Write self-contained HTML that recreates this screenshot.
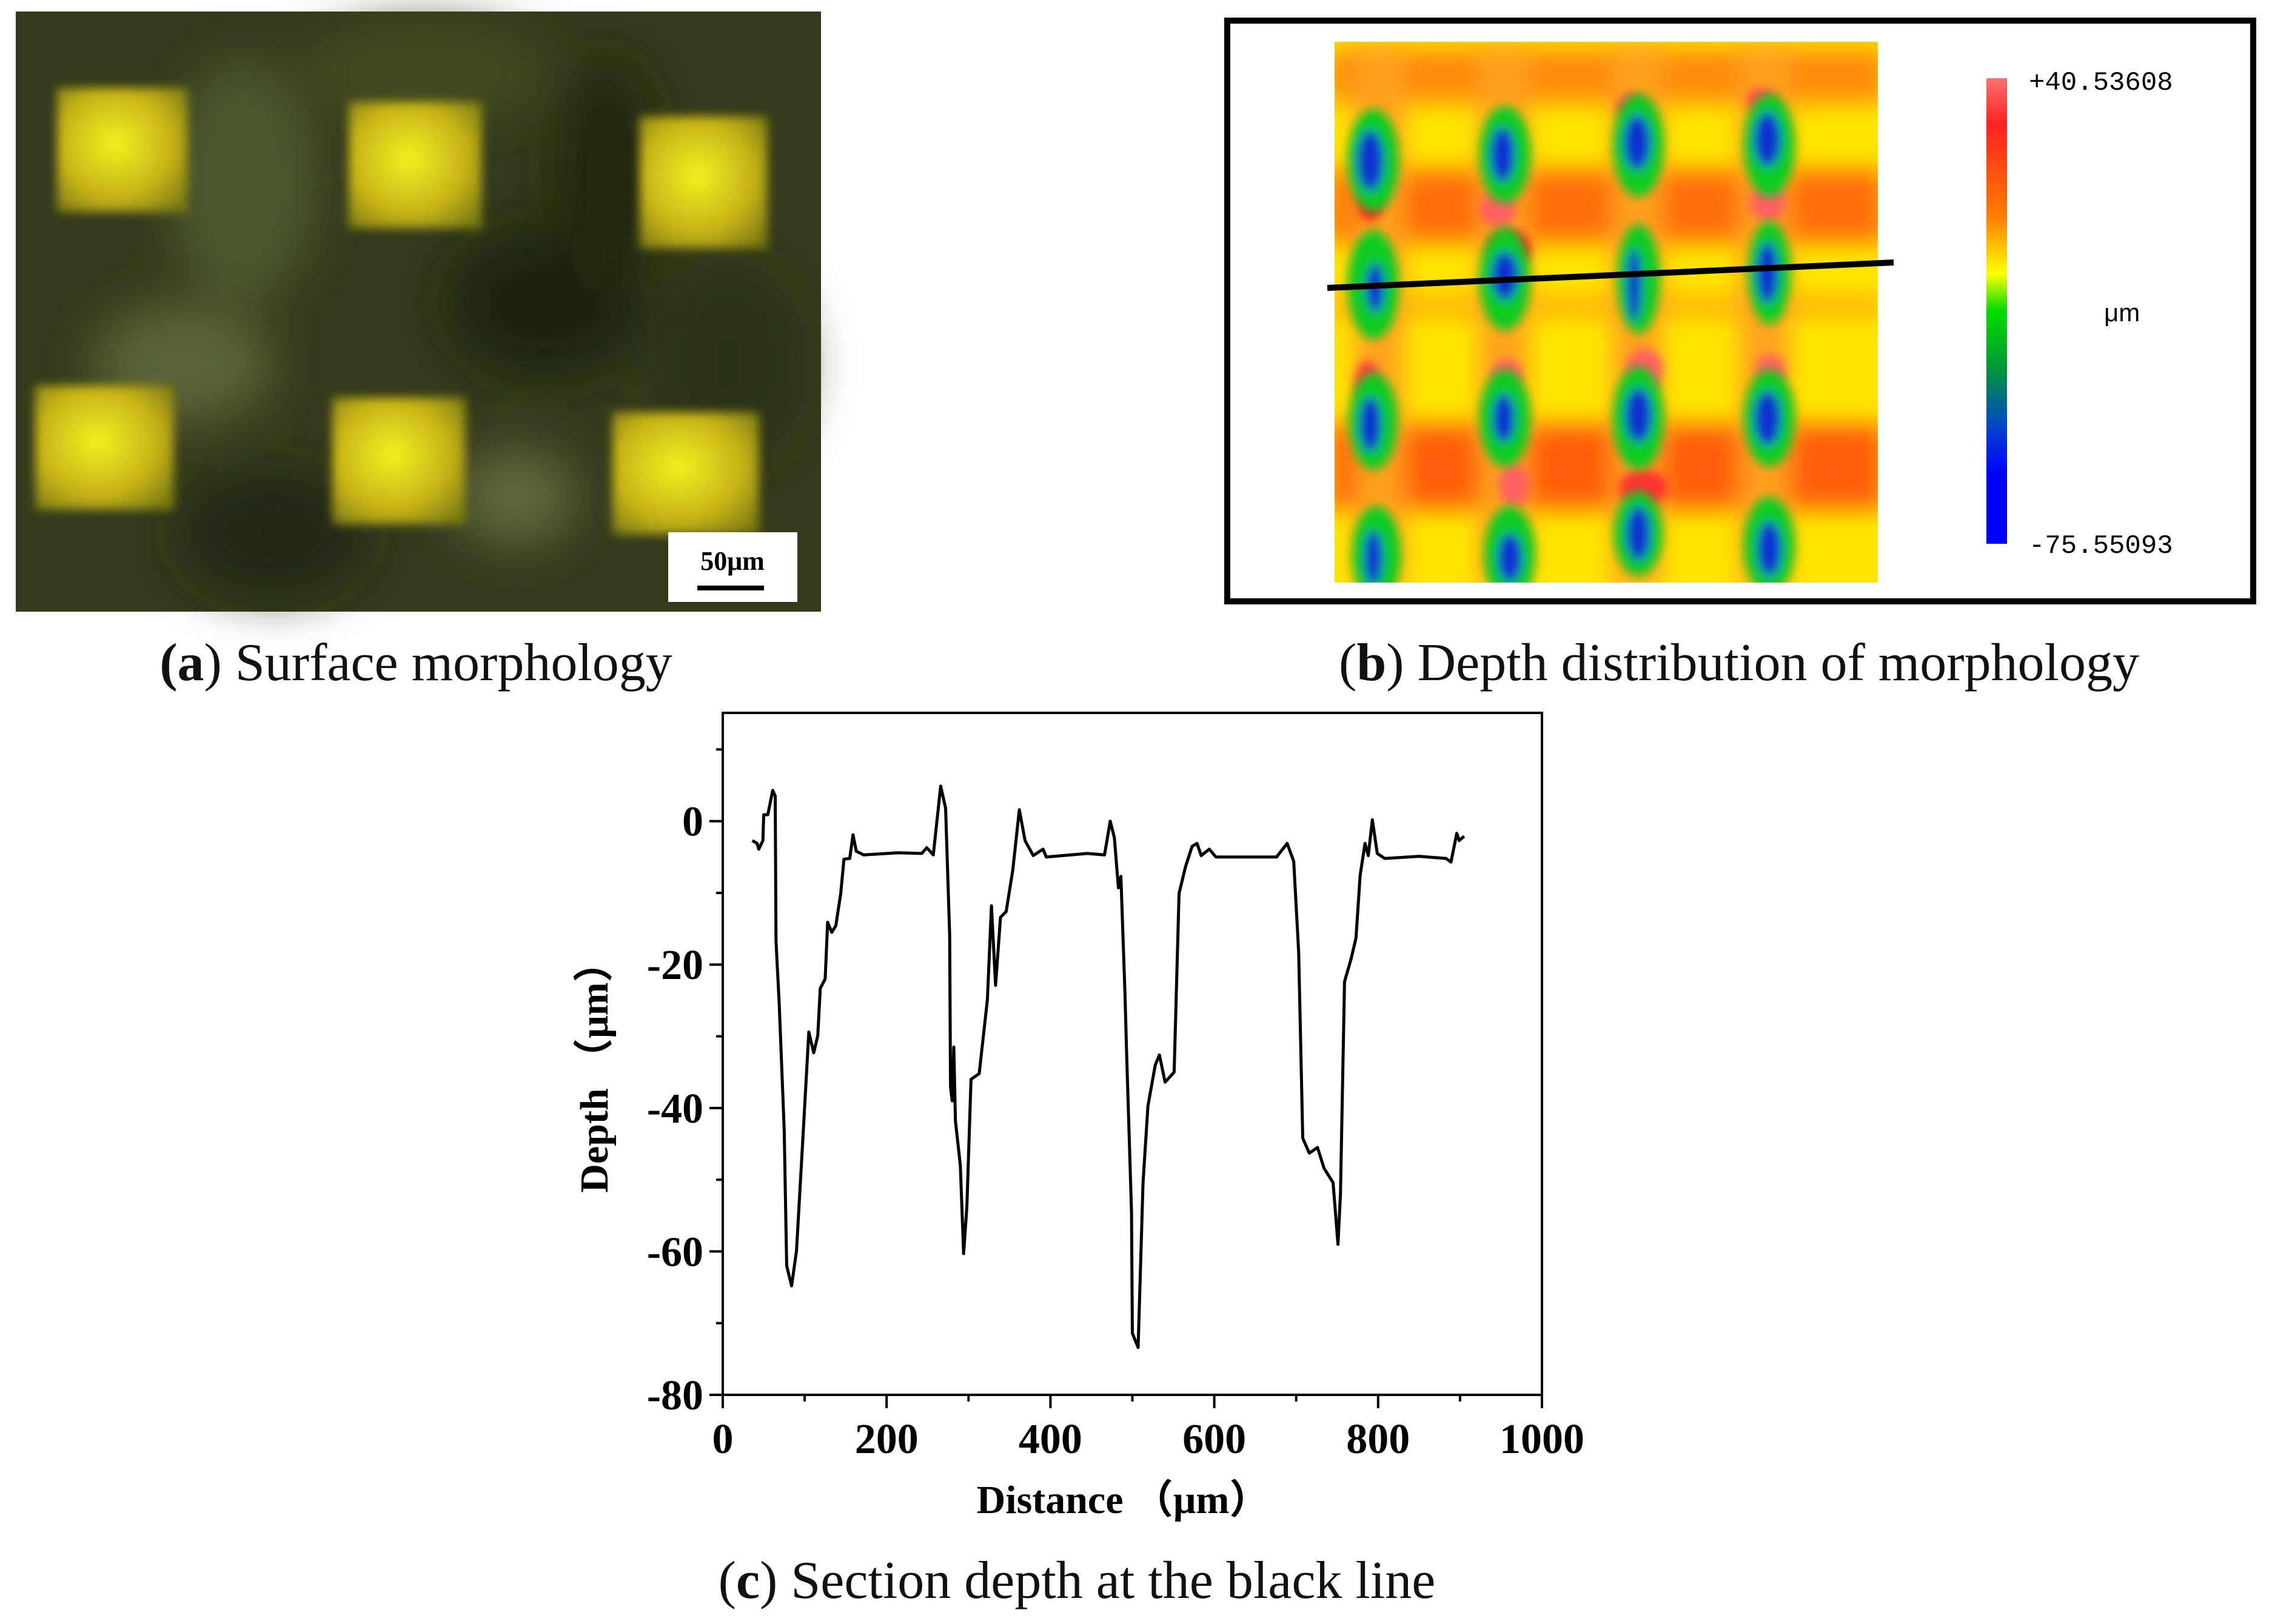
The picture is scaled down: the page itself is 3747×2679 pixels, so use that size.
<!DOCTYPE html>
<html><head><meta charset="utf-8">
<style>
html,body{margin:0;padding:0;background:#fff;}
body{width:3747px;height:2679px;position:relative;overflow:hidden;font-family:"Liberation Serif",serif;}
.cap{position:absolute;font-size:88px;line-height:100px;color:#111;white-space:nowrap;transform:translateX(-50%);}
</style></head>
<body>
<svg width="3747" height="2679" viewBox="0 0 3747 2679" style="position:absolute;left:0;top:0">
<defs>
<filter id="blur8"><feGaussianBlur stdDeviation="8"/></filter>
<filter id="blur20"><feGaussianBlur stdDeviation="20"/></filter>
<filter id="blur40"><feGaussianBlur stdDeviation="40"/></filter>
<linearGradient id="cbar" x1="0" y1="0" x2="0" y2="1">
<stop offset="0" stop-color="#ff7070"/><stop offset="0.1" stop-color="#ff2020"/><stop offset="0.3" stop-color="#ff8000"/><stop offset="0.42" stop-color="#ffff00"/><stop offset="0.5" stop-color="#00dd00"/><stop offset="0.62" stop-color="#009933"/><stop offset="0.75" stop-color="#0044cc"/><stop offset="0.85" stop-color="#0000ff"/><stop offset="1" stop-color="#0000ff"/>
</linearGradient>
<radialGradient id="gold" cx="0.45" cy="0.45" r="0.7"><stop offset="0" stop-color="#f4f020"/><stop offset="0.6" stop-color="#c8b418"/><stop offset="1" stop-color="#7a7a10"/></radialGradient>
</defs>

<!-- Panel a -->
<g>
<rect x="26" y="19" width="1328" height="990" fill="#343a1c"/>
<g filter="url(#blur40)">
<ellipse cx="400" cy="300" rx="120" ry="200" fill="#4e5830"/>
<ellipse cx="900" cy="500" rx="160" ry="120" fill="#1e2410"/>
<ellipse cx="1200" cy="600" rx="120" ry="160" fill="#2a3218"/>
<ellipse cx="300" cy="600" rx="150" ry="100" fill="#5a6438"/>
<ellipse cx="850" cy="820" rx="100" ry="80" fill="#5e6840"/>
<ellipse cx="450" cy="880" rx="150" ry="100" fill="#222812"/>
<ellipse cx="700" cy="120" rx="200" ry="80" fill="#424c24"/>
<ellipse cx="1000" cy="300" rx="80" ry="200" fill="#222810"/>
</g>
<g filter="url(#blur8)">
<rect x="94" y="145" width="216" height="205" fill="url(#gold)"/>
<rect x="575" y="168" width="220" height="209" fill="url(#gold)"/>
<rect x="1055" y="192" width="211" height="218" fill="url(#gold)"/>
<rect x="58" y="636" width="229" height="205" fill="url(#gold)"/>
<rect x="548" y="656" width="220" height="209" fill="url(#gold)"/>
<rect x="1010" y="680" width="242" height="202" fill="url(#gold)"/>
</g>
<rect x="1102" y="878" width="213" height="115" fill="#fff"/>
<text x="1208" y="940" font-family="Liberation Serif" font-weight="bold" font-size="44" text-anchor="middle">50μm</text>
<rect x="1150" y="966" width="110" height="8" fill="#000"/>
</g>

<!-- Panel b -->
<g>
<rect x="2024" y="34" width="1692" height="958" fill="#fff" stroke="#000" stroke-width="10"/>
<g>
<clipPath id="hc"><rect x="2201" y="69" width="896" height="892"/></clipPath>
<g clip-path="url(#hc)">
<rect x="2201" y="69" width="896" height="892" fill="#ffe600"/>
<g filter="url(#blur20)" opacity="0.9">
<rect x="2190" y="80" width="920" height="90" fill="#ff8010"/>
<rect x="2190" y="280" width="920" height="120" fill="#ff6010"/>
<rect x="2190" y="490" width="920" height="30" fill="#ffa010"/>
<rect x="2190" y="700" width="920" height="140" fill="#ff5010"/>
<rect x="2235" y="69" width="80" height="900" fill="#ff9a20"/>
<rect x="2440" y="69" width="80" height="900" fill="#ff9a20"/>
<rect x="2660" y="69" width="80" height="900" fill="#ff9a20"/>
<rect x="2870" y="69" width="80" height="900" fill="#ff9a20"/>
</g>
<g filter="url(#blur8)">
<ellipse cx="2690" cy="175" rx="25" ry="20" fill="#ff5050"/>
<ellipse cx="2905" cy="165" rx="25" ry="20" fill="#ff5050"/>
<ellipse cx="2470" cy="345" rx="30" ry="30" fill="#ff6060"/>
<ellipse cx="2915" cy="335" rx="30" ry="30" fill="#ff6060"/>
<ellipse cx="2260" cy="335" rx="20" ry="30" fill="#ff2020"/>
<ellipse cx="2490" cy="410" rx="35" ry="30" fill="#ff2020"/>
<ellipse cx="2712" cy="610" rx="30" ry="35" fill="#ff6060"/>
<ellipse cx="2485" cy="617" rx="25" ry="25" fill="#ff6060"/>
<ellipse cx="2920" cy="610" rx="25" ry="25" fill="#ff6060"/>
<ellipse cx="2255" cy="630" rx="20" ry="35" fill="#ff4040"/>
<ellipse cx="2497" cy="800" rx="25" ry="35" fill="#ff6060"/>
<ellipse cx="2710" cy="805" rx="40" ry="30" fill="#ff3030"/>
</g>
<g filter="url(#blur8)">
<g fill="#11cc22">
<ellipse cx="2265" cy="265" rx="42" ry="85"/><ellipse cx="2482" cy="255" rx="42" ry="80"/><ellipse cx="2702" cy="240" rx="42" ry="85"/><ellipse cx="2918" cy="240" rx="42" ry="85"/>
<ellipse cx="2265" cy="470" rx="42" ry="90"/><ellipse cx="2482" cy="460" rx="42" ry="85"/><ellipse cx="2702" cy="460" rx="35" ry="90"/><ellipse cx="2918" cy="450" rx="35" ry="85"/>
<ellipse cx="2265" cy="695" rx="40" ry="80"/><ellipse cx="2482" cy="690" rx="42" ry="80"/><ellipse cx="2702" cy="690" rx="42" ry="85"/><ellipse cx="2918" cy="690" rx="42" ry="80"/>
<ellipse cx="2270" cy="915" rx="40" ry="80"/><ellipse cx="2490" cy="915" rx="42" ry="80"/><ellipse cx="2702" cy="880" rx="40" ry="70"/><ellipse cx="2918" cy="900" rx="42" ry="80"/>
</g>
<g fill="#1030d0">
<ellipse cx="2260" cy="265" rx="22" ry="50"/><ellipse cx="2478" cy="255" rx="20" ry="45"/><ellipse cx="2700" cy="235" rx="22" ry="45"/><ellipse cx="2915" cy="230" rx="22" ry="45"/>
<ellipse cx="2268" cy="475" rx="15" ry="40"/><ellipse cx="2482" cy="455" rx="22" ry="40"/><ellipse cx="2695" cy="470" rx="12" ry="60"/><ellipse cx="2915" cy="450" rx="18" ry="50"/>
<ellipse cx="2260" cy="700" rx="18" ry="45"/><ellipse cx="2480" cy="690" rx="18" ry="40"/><ellipse cx="2702" cy="685" rx="22" ry="45"/><ellipse cx="2915" cy="690" rx="22" ry="45"/>
<ellipse cx="2265" cy="920" rx="15" ry="45"/><ellipse cx="2490" cy="920" rx="20" ry="40"/><ellipse cx="2702" cy="880" rx="20" ry="45"/><ellipse cx="2918" cy="905" rx="20" ry="45"/>
</g>
</g>
</g>
</g>
<line x1="2189" y1="475" x2="3123" y2="433" stroke="#000" stroke-width="10"/>
<rect x="3276" y="129" width="34" height="768" fill="url(#cbar)"/>
<text x="3346" y="148" font-family="Liberation Mono" font-size="44">+40.53608</text>
<text x="3346" y="912" font-family="Liberation Mono" font-size="44">-75.55093</text>
<text x="3470" y="530" font-family="Liberation Sans" font-size="42">μm</text>
</g>

<!-- Panel c chart -->
<g id="chart"></g>
</svg>

<div class="cap" style="left:686px;top:1044px;"><b>(a</b>) Surface morphology</div>
<div class="cap" style="left:2868px;top:1044px;">(<b>b</b>) Depth distribution of morphology</div>
<div class="cap" style="left:1776px;top:2558px;">(<b>c</b>) Section depth at the black line</div>

<script>
const distance=[36,42,44,49,50,55,61,64,65,69,75,78,84,90,98,105,111,116,119,125,128,133,138,144,148,155,159,163,172,214,243,249,257,266,272,277,278,280,282,284,290,294,298,303,313,323,328,333,339,346,354,362,369,379,391,395,445,466,473,478,483,486,491,493,499,500,507,513,519,528,533,540,551,557,565,573,579,584,594,602,676,689,697,703,708,716,726,734,745,751,754,759,767,773,778,784,788,793,799,808,850,883,889,896,899,905];
const depth=[-2.7,-3.1,-3.9,-2.7,0.9,0.9,4.3,3.5,-16.7,-25.7,-43,-62,-64.8,-59.9,-43.8,-29.4,-32.3,-29.9,-23.3,-22,-14.1,-15.5,-14.6,-10.1,-5.3,-5.2,-1.9,-4.2,-4.7,-4.4,-4.5,-3.7,-4.7,4.9,1.8,-15.9,-37,-39,-31.5,-41.8,-48,-60.3,-53.7,-36,-35.2,-24.9,-11.8,-22.9,-13.4,-12.6,-6.8,1.6,-2.7,-4.8,-3.9,-5,-4.5,-4.7,0,-2.3,-9.3,-7.7,-24,-32.3,-54.5,-71.4,-73.4,-50.4,-39.7,-34,-32.6,-36.4,-35,-10.1,-6.3,-3.5,-3.1,-4.8,-3.9,-5,-5,-3.1,-5.6,-18.3,-44.2,-46.3,-45.5,-48.4,-50.4,-59,-52,-22.4,-19.2,-16.3,-7.6,-3.1,-4.8,0.2,-4.5,-5.2,-4.9,-5.2,-5.7,-1.7,-2.7,-2.1];
const xTicks=[0,200,400,600,800,1000];
const xMinor=[100,300,500,700,900];
const yTicks=[0,-20,-40,-60,-80];
const yMinor=[10,-10,-30,-50,-70];

const L=1192,R=2543,T=1176,B=2301,x0=0,x1=1000,y0=-80,y1=15.1;
function sx(d){return L+(d-x0)/(x1-x0)*(R-L);}
function sy(v){return B-(v-y0)/(y1-y0)*(B-T);}
const NS='http://www.w3.org/2000/svg';
const g=document.getElementById('chart');
function mk(tag,attrs){const e=document.createElementNS(NS,tag);for(const k in attrs)e.setAttribute(k,attrs[k]);g.appendChild(e);return e;}

let fr=mk('rect',{x:L,y:T,width:R-L,height:B-T,fill:'none',stroke:'#000','stroke-width':4});



xTicks.forEach(t=>{
  const l=mk('line',{x1:sx(t),x2:sx(t),y1:B,y2:B+22,stroke:'#000','stroke-width':4});
  
  
  const tx=mk('text',{x:sx(t),y:2397,'text-anchor':'middle','font-family':'Liberation Serif','font-weight':'bold','font-size':70});
  
  
  tx.textContent=t;
});
xMinor.forEach(t=>{
  const l=mk('line',{x1:sx(t),x2:sx(t),y1:B,y2:B+11,stroke:'#000','stroke-width':4});
  
  
});
yTicks.forEach(t=>{
  const l=mk('line',{x1:L-22,x2:L,y1:sy(t),y2:sy(t),stroke:'#000','stroke-width':4});
  
  
  const tx=mk('text',{x:1160,y:sy(t)+24,'text-anchor':'end','font-family':'Liberation Serif','font-weight':'bold','font-size':70});
  
  
  tx.textContent=t;
});
yMinor.forEach(t=>{
  const l=mk('line',{x1:L-11,x2:L,y1:sy(t),y2:sy(t),stroke:'#000','stroke-width':4});
  
  
});
let pts=distance.map((d,i)=>sx(d).toFixed(1)+','+sy(depth[i]).toFixed(1)).join(' ');
const pl=mk('polyline',{points:pts,fill:'none',stroke:'#000','stroke-width':5,'stroke-linejoin':'round'});



const xt=mk('text',{x:1852,y:2496,'text-anchor':'middle','font-family':'Liberation Serif, Noto Sans CJK SC, serif','font-weight':'bold','font-size':66});


xt.textContent='Distance （μm）';
const yt=mk('text',{x:0,y:0,transform:'translate(1002,1761) rotate(-90)','text-anchor':'middle','font-family':'Liberation Serif, Noto Sans CJK SC, serif','font-weight':'bold','font-size':66});


yt.textContent='Depth （μm）';
</script>
</body></html>
